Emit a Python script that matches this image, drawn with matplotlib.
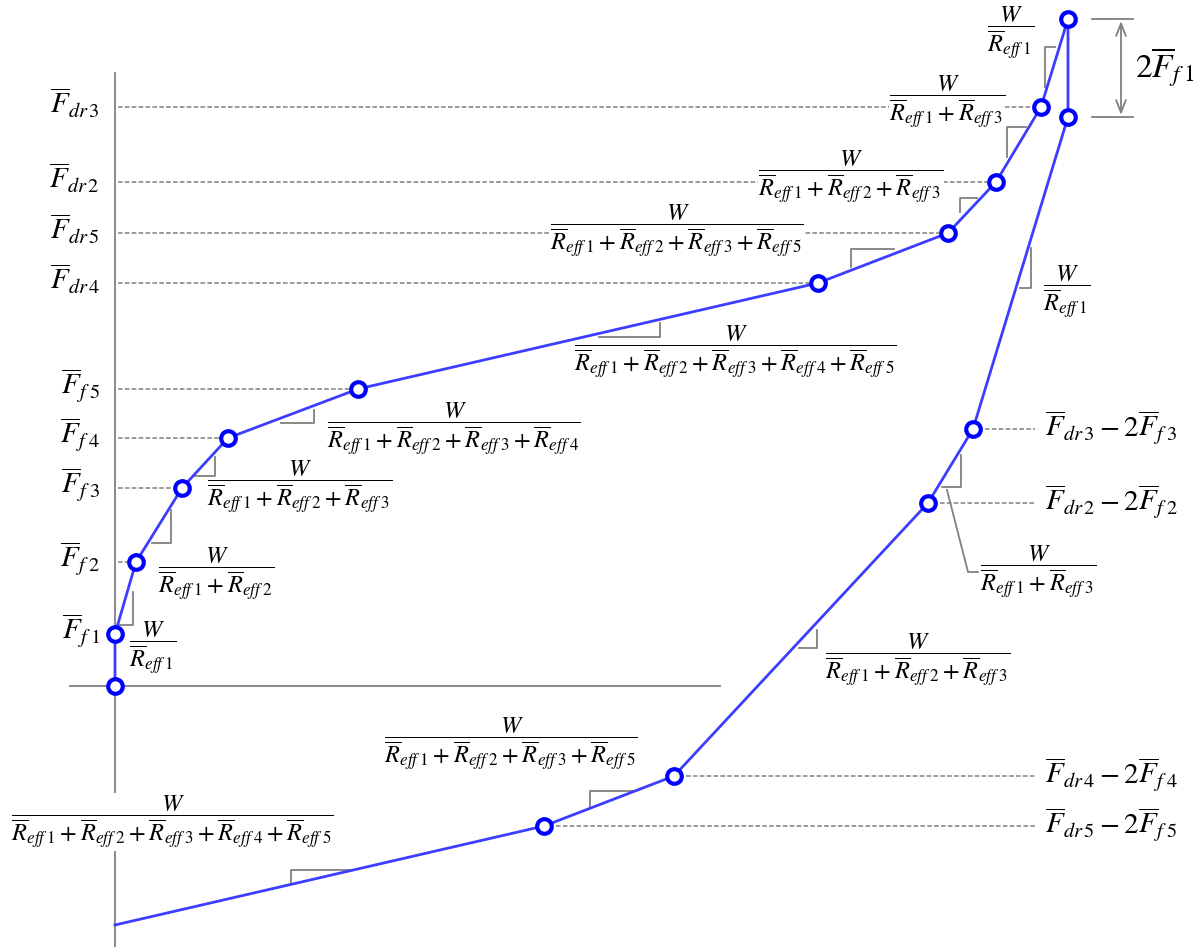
import matplotlib
matplotlib.use("Agg")
import matplotlib.pyplot as plt

plt.rcParams['mathtext.fontset'] = 'stix'
plt.rcParams['font.family'] = ['STIXGeneral', 'DejaVu Serif']

# ---- data: displacement u and force F of the hysteresis branches ----
loading_u = [0, 0, 21, 67, 113, 243, 703, 833, 881, 926, 953]
loading_F = [0, 52, 124, 198, 248, 297, 403, 453, 504, 579, 667]
unloading_u = [953, 953, 858, 813, 559, 429, 0]
unloading_F = [667, 569, 257, 183, -90, -140, -239]

# force-level labels on the loading branch (index into loading arrays)
left_labels = [r'f\;1', r'f\;2', r'f\;3', r'f\;4', r'f\;5',
               r'dr\,4', r'dr\,5', r'dr\,2', r'dr\,3']
left_index = [1, 2, 3, 4, 5, 6, 7, 8, 9]

# force-level labels on the unloading branch
right_labels = [(r'dr\,3', r'f\;3'), (r'dr\,2', r'f\;2'),
                (r'dr\,4', r'f\;4'), (r'dr\,5', r'f\;5')]
right_index = [2, 3, 4, 5]

# slope fractions: which R_eff terms appear in each denominator
slope_terms = [[1], [1, 2], [1, 2, 3], [1, 2, 3, 4], [1, 2, 3, 4, 5],
               [1, 2, 3, 5], [1, 2, 3], [1, 3], [1],
               [1], [1, 3], [1, 2, 3], [1, 2, 3, 5], [1, 2, 3, 4, 5]]
# where each fraction is placed (centre of the fraction bar)
slope_pos = [(38, 38), (101, 112), (185, 199), (339, 257), (620, 334),
             (562, 455), (736, 509), (832, 584), (896, 653),
             (952, 394), (923, 114), (803, 26), (396, -58), (57, -136)]
# slope marks: corner, horizontal leg, vertical leg
slope_marks = [((18, 61), -15, 33), ((56, 143), -19, 33), ((100, 210), -21, 19),
               ((199, 263), -33, 13), ((545, 349), -61, 14), ((736, 437), 43, -18),
               ((845, 488), 17, -14), ((892, 559), 19, -30), ((930, 639), 10, -40),
               ((916, 398), -11, 40), ((846, 199), -19, 32), ((702, 38), -18, 18),
               ((475, -105), 45, -16), ((176, -184), 59, -12)]

BLUE_LINE = '#3d3dff'
BLUE_MARK = '#0000ff'
GRAY = '#808080'

fig = plt.figure(figsize=(12.03, 9.47), dpi=100)
ax = fig.add_axes([0, 0, 1, 1])
ax.set_xlim(-115, 1088)
ax.set_ylim(-261, 686)
ax.axis('off')

# axes
ax.plot([-45, 605], [0, 0], color=GRAY, lw=1.3, zorder=1)
ax.plot([0, 0], [613, -261], color=GRAY, lw=1.3, zorder=1)

dash = (0, (3.0, 1.5))
# dashed guides to the left axis
for idx in left_index:
    ax.plot([3, loading_u[idx] - 9], [loading_F[idx]] * 2, color=GRAY,
            lw=1.1, ls=dash, zorder=1)
# dashed guides to the right labels
for idx in right_index:
    ax.plot([unloading_u[idx] + 12, 920], [unloading_F[idx]] * 2, color=GRAY,
            lw=1.1, ls=dash, zorder=1)

# branches
ax.plot(loading_u, loading_F, color=BLUE_LINE, lw=2.0, zorder=4)
ax.plot(unloading_u, unloading_F, color=BLUE_LINE, lw=2.0, zorder=4)
ax.plot(loading_u, loading_F, ls='none', marker='o', ms=10.5, mfc='white',
        mec=BLUE_MARK, mew=3.0, zorder=5)
ax.plot(unloading_u[1:-1], unloading_F[1:-1], ls='none', marker='o', ms=10.5,
        mfc='white', mec=BLUE_MARK, mew=3.0, zorder=5)

# slope marks
for (cu, cF), dx, dy in slope_marks:
    ax.plot([cu + dx, cu, cu], [cF, cF, cF + dy], color=GRAY, lw=1.3, zorder=3)

# leader to the lower W/(R1+R3) fraction
ax.plot([832, 853, 863], [196, 114, 114], color=GRAY, lw=1.3, zorder=3)

# 2F_f1 dimension
top_F, bot_F = loading_F[-1], unloading_F[1]
ax.plot([977, 1018], [top_F, top_F], color=GRAY, lw=1.3, zorder=1)
ax.plot([977, 1018], [bot_F, bot_F], color=GRAY, lw=1.3, zorder=1)
ax.annotate('', xy=(1006, top_F - 2), xytext=(1006, bot_F + 2),
            arrowprops=dict(arrowstyle='<->,head_length=0.9,head_width=0.35',
                            color=GRAY, lw=1.3, shrinkA=0, shrinkB=0))
ax.text(1020, 619, r'$2\overline{F}_{f\;1}$', fontsize=24, ha='left',
        va='center', zorder=2)

white = dict(facecolor='white', edgecolor='none', pad=0)

for name, idx in zip(left_labels, left_index):
    ax.text(-15, loading_F[idx] + 4, r'$\overline{F}_{%s}$' % name,
            fontsize=21, ha='right', va='center', zorder=2)

for (a, b), idx in zip(right_labels, right_index):
    ax.text(930, unloading_F[idx] + 2,
            r'$\overline{F}_{%s} - 2\overline{F}_{%s}$' % (a, b),
            fontsize=21, ha='left', va='center', zorder=2, bbox=white)

for terms, (pu, pF) in zip(slope_terms, slope_pos):
    den = ' + '.join(r'\overline{R}_{eff\;%d}' % t for t in terms)
    ax.text(pu, pF, r'$\dfrac{W}{%s}$' % den, fontsize=17.5, ha='center',
            va='center', zorder=2, bbox=white)

fig.savefig('out.png', dpi=100)
